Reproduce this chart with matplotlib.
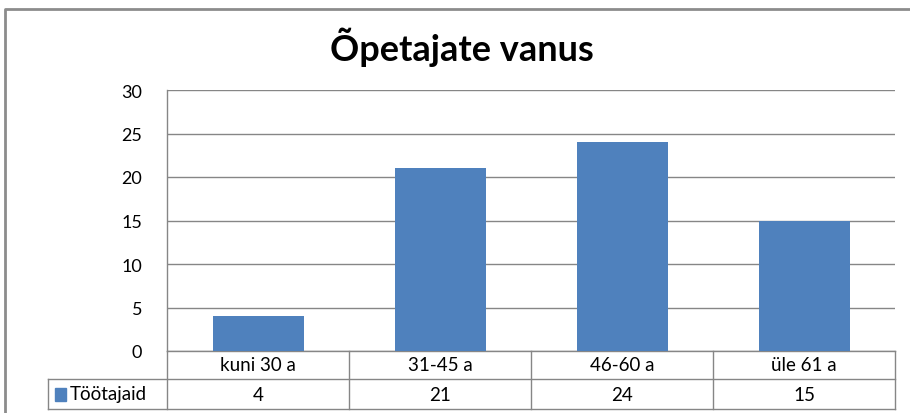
import matplotlib.pyplot as plt
import matplotlib.transforms as mtransforms
from matplotlib.patches import Rectangle

categories = ["kuni 30 a", "31-45 a", "46-60 a", "üle 61 a"]
values = [4, 21, 24, 15]
series_name = "Töötajaid"
title = "Õpetajate vanus"
yticks = [0, 5, 10, 15, 20, 25, 30]

blue = "#4F81BD"
grid = "#868686"
font = "Lato"

fig = plt.figure(figsize=(9.1, 4.14), dpi=100)
W, H = 910, 414

# plot area in pixel coords
x0, x1, ytop, ybot = 167, 895, 91, 352
ax = fig.add_axes([x0 / W, 1 - ybot / H, (x1 - x0) / W, (ybot - ytop) / H])

xs = range(len(categories))
ax.bar(xs, values, width=0.5, color=blue, zorder=3)
ax.set_xlim(-0.5, len(categories) - 0.5)
ax.set_ylim(0, 30)
ax.set_yticks(yticks)
ax.set_yticklabels([str(t) for t in yticks], fontsize=13, family=font)
ax.tick_params(axis="y", length=0, pad=18)
ax.set_xticks([])
ax.yaxis.grid(True, color=grid, lw=1, zorder=0)
for s in ["top", "right", "bottom"]:
    ax.spines[s].set_visible(False)
ax.spines["left"].set_color(grid)
ax.spines["left"].set_linewidth(1)

# data table under the plot
row_h = 28 / (ybot - ytop)
tr = mtransforms.blended_transform_factory(ax.transData, ax.transAxes)
left_legend = -0.5 - (x0 - 48) / ((x1 - x0) / len(categories))
lc = dict(color=grid, lw=1, clip_on=False, transform=tr)
ax.plot([-0.5, len(categories) - 0.5], [0, 0], **lc)
ax.plot([left_legend, len(categories) - 0.5], [-row_h, -row_h], **lc)
ax.plot([left_legend, len(categories) - 0.5], [-2.07 * row_h, -2.07 * row_h], **lc)
ax.plot([left_legend, left_legend], [-row_h, -2.07 * row_h], **lc)
for i in range(len(categories) + 1):
    ax.plot([i - 0.5, i - 0.5], [0, -2.07 * row_h], **lc)
for i, (c, v) in enumerate(zip(categories, values)):
    ax.text(i, -0.5 * row_h, c, ha="center", va="center", fontsize=13.5,
            family=font, transform=tr)
    ax.text(i, -1.55 * row_h, str(v), ha="center", va="center", fontsize=13.5,
            family=font, transform=tr)

# legend key in the table
fig.patches.append(Rectangle((55 / W, 1 - 402 / H), 11 / W, 13 / H,
                             color=blue, transform=fig.transFigure))
fig.text(70 / W, 1 - 395 / H, series_name, ha="left", va="center",
         fontsize=13.5, family=font)

# title
fig.text(462 / W, 1 - 47 / H, title, ha="center", va="center",
         fontsize=26, fontweight="bold", family=font)

# outer chart frame
fig.lines.append(plt.Line2D([5 / W, 5 / W, 1], [0, 1 - 10 / H, 1 - 10 / H],
                            color="#8c8c8c", lw=2, transform=fig.transFigure))

fig.savefig("out.png", dpi=100)
